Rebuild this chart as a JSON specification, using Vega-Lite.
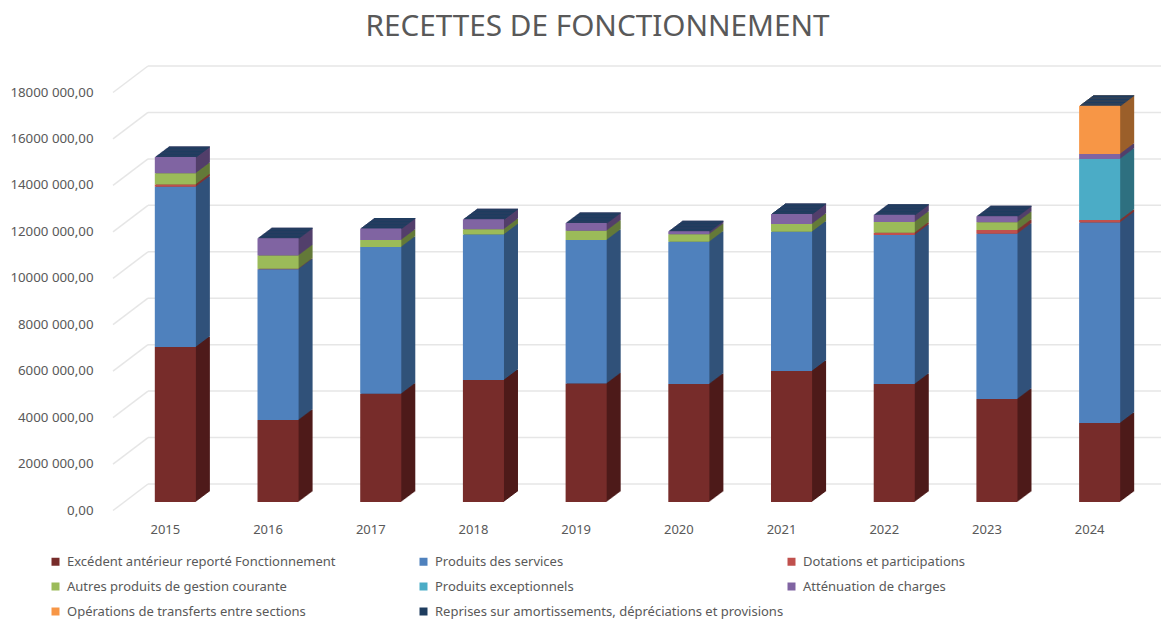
{"$schema":"https://vega.github.io/schema/vega-lite/v6.json","width":1013,"height":418,"autosize":{"type":"none"},"padding":{"left":148,"top":84,"right":0,"bottom":117},"background":"white",
"title":{"text":"RECETTES DE FONCTIONNEMENT","font":"Noto Sans","fontSize":29.7,"fontWeight":"normal","color":"#595959","anchor":"middle","dx":-57,"offset":23},
"config":{"view":{"stroke":null}},
"datasets":{"ticks":[{"v":0},{"v":2000000},{"v":4000000},{"v":6000000},{"v":8000000},{"v":10000000},{"v":12000000},{"v":14000000},{"v":16000000},{"v":18000000}],
"rows":[
{"year":"2015","k":1,"series":"Excédent antérieur reporté Fonctionnement","value":6680000},{"year":"2015","k":2,"series":"Produits des services","value":6890000},{"year":"2015","k":3,"series":"Dotations et participations","value":100000},{"year":"2015","k":4,"series":"Autres produits de gestion courante","value":490000},{"year":"2015","k":6,"series":"Atténuation de charges","value":700000},
{"year":"2016","k":1,"series":"Excédent antérieur reporté Fonctionnement","value":3530000},{"year":"2016","k":2,"series":"Produits des services","value":6490000},{"year":"2016","k":3,"series":"Dotations et participations","value":20000},{"year":"2016","k":4,"series":"Autres produits de gestion courante","value":570000},{"year":"2016","k":6,"series":"Atténuation de charges","value":750000},
{"year":"2017","k":1,"series":"Excédent antérieur reporté Fonctionnement","value":4660000},{"year":"2017","k":2,"series":"Produits des services","value":6320000},{"year":"2017","k":4,"series":"Autres produits de gestion courante","value":300000},{"year":"2017","k":6,"series":"Atténuation de charges","value":500000},
{"year":"2018","k":1,"series":"Excédent antérieur reporté Fonctionnement","value":5250000},{"year":"2018","k":2,"series":"Produits des services","value":6270000},{"year":"2018","k":4,"series":"Autres produits de gestion courante","value":220000},{"year":"2018","k":6,"series":"Atténuation de charges","value":440000},
{"year":"2019","k":1,"series":"Excédent antérieur reporté Fonctionnement","value":5100000},{"year":"2019","k":2,"series":"Produits des services","value":6180000},{"year":"2019","k":4,"series":"Autres produits de gestion courante","value":400000},{"year":"2019","k":6,"series":"Atténuation de charges","value":330000},
{"year":"2020","k":1,"series":"Excédent antérieur reporté Fonctionnement","value":5080000},{"year":"2020","k":2,"series":"Produits des services","value":6130000},{"year":"2020","k":4,"series":"Autres produits de gestion courante","value":320000},{"year":"2020","k":6,"series":"Atténuation de charges","value":130000},
{"year":"2021","k":1,"series":"Excédent antérieur reporté Fonctionnement","value":5640000},{"year":"2021","k":2,"series":"Produits des services","value":6000000},{"year":"2021","k":4,"series":"Autres produits de gestion courante","value":330000},{"year":"2021","k":6,"series":"Atténuation de charges","value":430000},
{"year":"2022","k":1,"series":"Excédent antérieur reporté Fonctionnement","value":5080000},{"year":"2022","k":2,"series":"Produits des services","value":6420000},{"year":"2022","k":3,"series":"Dotations et participations","value":90000},{"year":"2022","k":4,"series":"Autres produits de gestion courante","value":470000},{"year":"2022","k":6,"series":"Atténuation de charges","value":310000},
{"year":"2023","k":1,"series":"Excédent antérieur reporté Fonctionnement","value":4440000},{"year":"2023","k":2,"series":"Produits des services","value":7110000},{"year":"2023","k":3,"series":"Dotations et participations","value":160000},{"year":"2023","k":4,"series":"Autres produits de gestion courante","value":340000},{"year":"2023","k":6,"series":"Atténuation de charges","value":260000},
{"year":"2024","k":1,"series":"Excédent antérieur reporté Fonctionnement","value":3400000},{"year":"2024","k":2,"series":"Produits des services","value":8640000},{"year":"2024","k":3,"series":"Dotations et participations","value":100000},{"year":"2024","k":5,"series":"Produits exceptionnels","value":2630000},{"year":"2024","k":6,"series":"Atténuation de charges","value":220000},{"year":"2024","k":7,"series":"Opérations de transferts entre sections","value":2070000}
]},
"layer":[
{"data":{"name":"ticks"},"mark":{"type":"rule","color":"#e6e6e6","strokeWidth":1.5,"yOffset":-18},"encoding":{"y":{"field":"v","type":"quantitative","scale":{"domain":[0,18000000],"nice":false},"axis":{"title":null,"values":[0,2000000,4000000,6000000,8000000,10000000,12000000,14000000,16000000,18000000],"grid":false,"domain":false,"ticks":false,"labelPadding":55,"labelOffset":8,"labelFont":"Noto Sans","labelFontSize":13.3,"labelColor":"#595959","labelExpr":"datum.value == 0 ? '0,00' : (datum.value / 1000) + ' 000,00'"}}}},
{"data":{"name":"ticks"},"mark":{"type":"rule","color":"#e6e6e6","strokeWidth":1.5,"yOffset":8.5,"y2Offset":-18},"encoding":{"x":{"value":-35},"x2":{"value":0},"y":{"field":"v","type":"quantitative"},"y2":{"field":"v"}}},
{"data":{"name":"rows"},"transform":[{"calculate":"datum.series + ' côté'","as":"side"}],
"encoding":{"x":{"field":"year","type":"nominal","scale":{"range":[-24,1003],"paddingInner":0.6,"paddingOuter":0.3},"axis":{"title":null,"domain":false,"ticks":false,"labelAngle":0,"labelPadding":21,"labelOffset":-10,"labelFont":"Noto Sans","labelFontSize":13,"labelColor":"#595959"}}},
"layer":[
{"encoding":{"y":{"field":"value","type":"quantitative","stack":"zero"},"order":{"field":"k","type":"quantitative"},
"color":{"field":"side","type":"nominal","scale":{"domain":["Excédent antérieur reporté Fonctionnement","Produits des services","Dotations et participations","Autres produits de gestion courante","Produits exceptionnels","Atténuation de charges","Opérations de transferts entre sections","Reprises sur amortissements, dépréciations et provisions","Excédent antérieur reporté Fonctionnement côté","Produits des services côté","Dotations et participations côté","Autres produits de gestion courante côté","Produits exceptionnels côté","Atténuation de charges côté","Opérations de transferts entre sections côté","Reprises sur amortissements, dépréciations et provisions côté"],"range":["#772C2A","#4F81BD","#C0504D","#9BBB59","#4BACC6","#8064A2","#F79646","#1F3D5F","#4E1B1A","#31527A","#7F3432","#647A39","#2F7080","#533F6B","#9C5F2B","#1F3D5F"]}}},
"layer":[
{"mark":{"type":"bar","xOffset":14,"yOffset":-10.5,"y2Offset":-10.5}},
{"mark":{"type":"bar","xOffset":13,"yOffset":-9.75,"y2Offset":-9.75}},
{"mark":{"type":"bar","xOffset":12,"yOffset":-9,"y2Offset":-9}},
{"mark":{"type":"bar","xOffset":11,"yOffset":-8.25,"y2Offset":-8.25}},
{"mark":{"type":"bar","xOffset":10,"yOffset":-7.5,"y2Offset":-7.5}},
{"mark":{"type":"bar","xOffset":9,"yOffset":-6.75,"y2Offset":-6.75}},
{"mark":{"type":"bar","xOffset":8,"yOffset":-6,"y2Offset":-6}},
{"mark":{"type":"bar","xOffset":7,"yOffset":-5.25,"y2Offset":-5.25}},
{"mark":{"type":"bar","xOffset":6,"yOffset":-4.5,"y2Offset":-4.5}},
{"mark":{"type":"bar","xOffset":5,"yOffset":-3.75,"y2Offset":-3.75}},
{"mark":{"type":"bar","xOffset":4,"yOffset":-3,"y2Offset":-3}},
{"mark":{"type":"bar","xOffset":3,"yOffset":-2.25,"y2Offset":-2.25}},
{"mark":{"type":"bar","xOffset":2,"yOffset":-1.5,"y2Offset":-1.5}},
{"mark":{"type":"bar","xOffset":1,"yOffset":-0.75,"y2Offset":-0.75}}
]},
{"transform":[{"aggregate":[{"op":"sum","field":"value","as":"total"}],"groupby":["year"]}],
"encoding":{"y":{"field":"total","type":"quantitative"},"y2":{"field":"total"}},
"layer":[
{"mark":{"type":"bar","color":"#1F3D5F","xOffset":14,"yOffset":-10.5,"y2Offset":-9.5}},
{"mark":{"type":"bar","color":"#1F3D5F","xOffset":13,"yOffset":-9.75,"y2Offset":-8.75}},
{"mark":{"type":"bar","color":"#1F3D5F","xOffset":12,"yOffset":-9,"y2Offset":-8}},
{"mark":{"type":"bar","color":"#1F3D5F","xOffset":11,"yOffset":-8.25,"y2Offset":-7.25}},
{"mark":{"type":"bar","color":"#1F3D5F","xOffset":10,"yOffset":-7.5,"y2Offset":-6.5}},
{"mark":{"type":"bar","color":"#1F3D5F","xOffset":9,"yOffset":-6.75,"y2Offset":-5.75}},
{"mark":{"type":"bar","color":"#1F3D5F","xOffset":8,"yOffset":-6,"y2Offset":-5}},
{"mark":{"type":"bar","color":"#1F3D5F","xOffset":7,"yOffset":-5.25,"y2Offset":-4.25}},
{"mark":{"type":"bar","color":"#1F3D5F","xOffset":6,"yOffset":-4.5,"y2Offset":-3.5}},
{"mark":{"type":"bar","color":"#1F3D5F","xOffset":5,"yOffset":-3.75,"y2Offset":-2.75}},
{"mark":{"type":"bar","color":"#1F3D5F","xOffset":4,"yOffset":-3,"y2Offset":-2}},
{"mark":{"type":"bar","color":"#1F3D5F","xOffset":3,"yOffset":-2.25,"y2Offset":-1.25}},
{"mark":{"type":"bar","color":"#1F3D5F","xOffset":2,"yOffset":-1.5,"y2Offset":-0.5}},
{"mark":{"type":"bar","color":"#1F3D5F","xOffset":1,"yOffset":-0.75,"y2Offset":0.25}}
]},
{"mark":{"type":"bar"},"encoding":{"y":{"field":"value","type":"quantitative","stack":"zero"},"order":{"field":"k","type":"quantitative"},
"color":{"field":"series","type":"nominal","legend":{"title":null,"orient":"none","legendX":-99,"legendY":471,"direction":"horizontal","columns":3,"gridAlign":"all","columnPadding":1,"rowPadding":11,"padding":0,"symbolType":"square","symbolSize":64,"symbolStrokeWidth":0,"symbolOffset":0,"labelOffset":5,"labelLimit":420,"labelFont":"Noto Sans","labelFontSize":13,"labelColor":"#595959","values":["Excédent antérieur reporté Fonctionnement","Produits des services","Dotations et participations","Autres produits de gestion courante","Produits exceptionnels","Atténuation de charges","Opérations de transferts entre sections","Reprises sur amortissements, dépréciations et provisions"]}}}}
]}
],
"resolve":{"scale":{"y":"shared"}}}
